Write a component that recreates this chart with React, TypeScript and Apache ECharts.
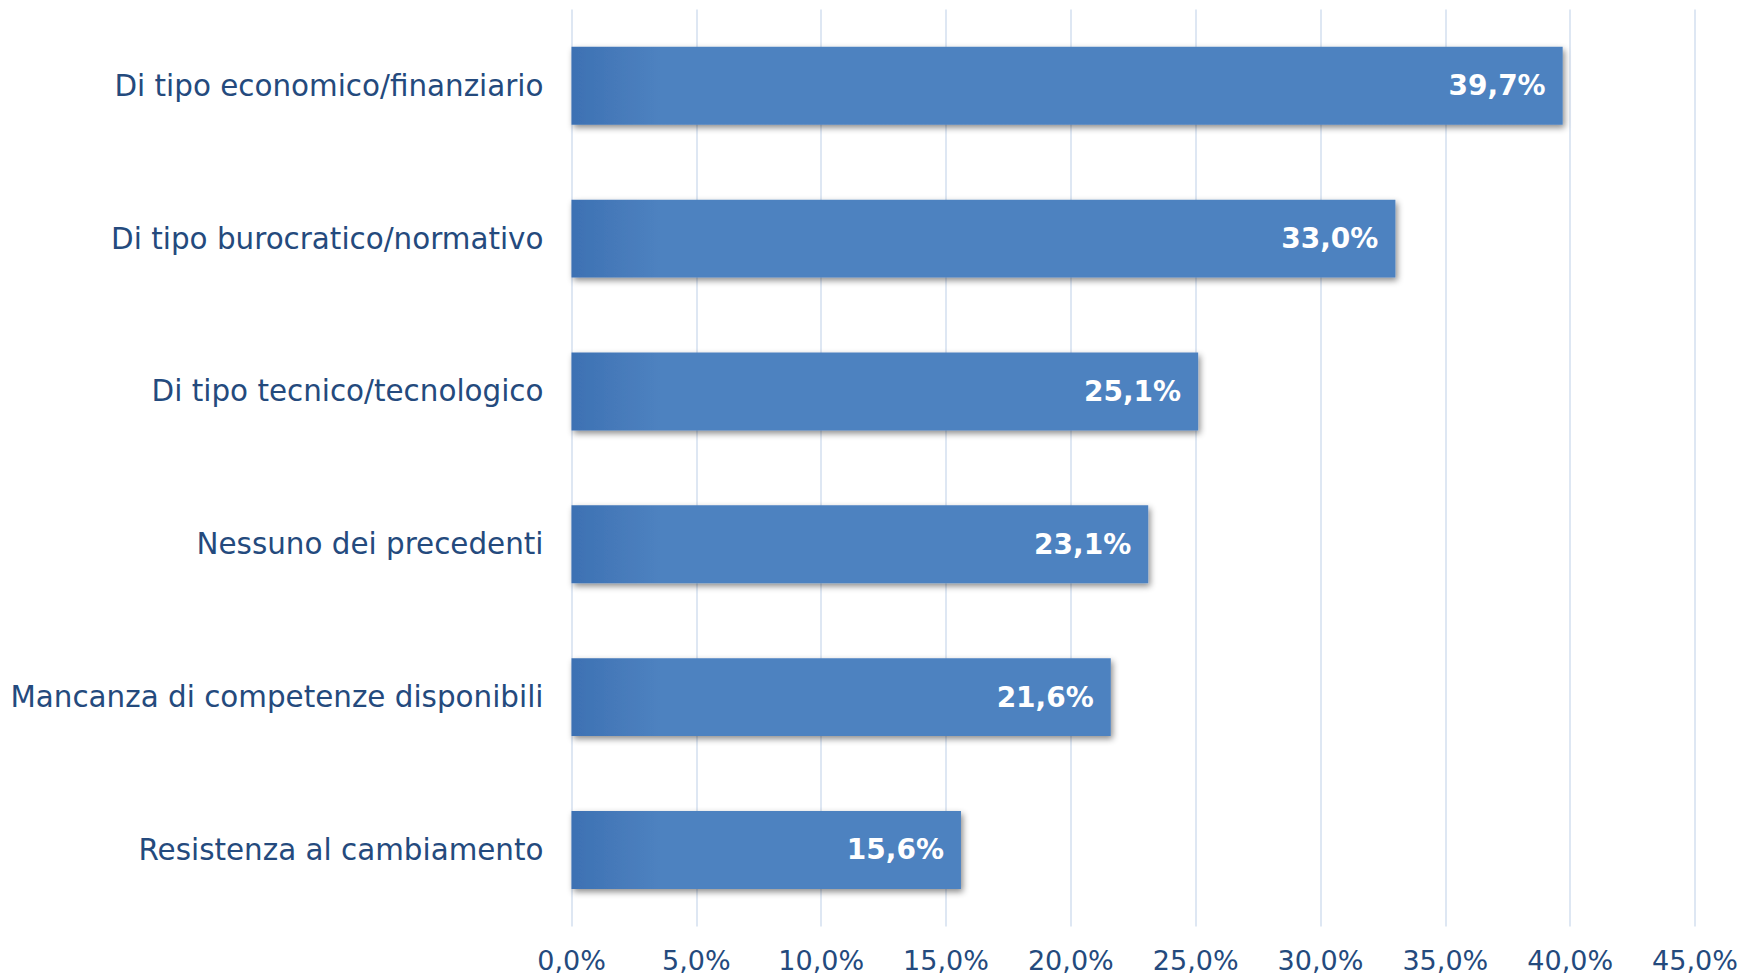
import React, { useEffect, useRef } from "react";
import * as echarts from "echarts";

const categories = [
  "Di tipo economico/finanziario",
  "Di tipo burocratico/normativo",
  "Di tipo tecnico/tecnologico",
  "Nessuno dei precedenti",
  "Mancanza di competenze disponibili",
  "Resistenza al cambiamento",
];
const values = [39.7, 33.0, 25.1, 23.1, 21.6, 15.6];
const axisMin = 0;
const axisMax = 45;
const axisStep = 5;

const fmt = (v: number) => v.toFixed(1).replace(".", ",") + "%";

export default function App() {
  const ref = useRef<HTMLDivElement>(null);
  useEffect(() => {
    if (!ref.current) return;
    const chart = echarts.init(ref.current, undefined, { renderer: "svg" });
    const font = "'DejaVu Sans', Verdana, sans-serif";
    const textColor = "#244A7D";
    chart.setOption({
      animation: false,
      backgroundColor: "#ffffff",
      grid: { left: 571.5, right: 52, top: 9.4, bottom: 50.6, containLabel: false },
      xAxis: {
        type: "value",
        min: axisMin,
        max: axisMax,
        interval: axisStep,
        axisLine: { show: false },
        axisTick: { show: false },
        splitLine: { show: true, lineStyle: { color: "#D3DFEF", width: 1.5 } },
        axisLabel: {
          formatter: (v: number) => fmt(v),
          color: textColor,
          fontFamily: font,
          fontSize: 27,
          margin: 21,
        },
      },
      yAxis: {
        type: "category",
        data: categories,
        inverse: true,
        axisLine: { show: false },
        axisTick: { show: false },
        splitLine: { show: false },
        axisLabel: {
          color: textColor,
          fontFamily: font,
          fontSize: 29.4,
          margin: 28,
        },
      },
      series: [
        {
          type: "bar",
          data: values,
          barCategoryGap: "49%",
          itemStyle: {
            color: new echarts.graphic.LinearGradient(
              572, 0, 660, 0,
              [
                { offset: 0, color: "#3D71B3" },
                { offset: 1, color: "#4E82C0" },
              ],
              true
            ),
            shadowColor: "rgba(0,0,0,0.45)",
            shadowBlur: 6,
            shadowOffsetX: 2,
            shadowOffsetY: 3,
          },
          label: {
            show: true,
            position: "insideRight",
            distance: 17,
            formatter: (p: any) => fmt(p.value),
            color: "#ffffff",
            fontFamily: font,
            fontWeight: "bold",
            fontSize: 28,
          },
        },
      ],
    });
    return () => chart.dispose();
  }, []);
  return (
    <div
      ref={ref}
      style={{ position: "fixed", left: 0, top: 0, width: 1747, height: 977 }}
    />
  );
}
